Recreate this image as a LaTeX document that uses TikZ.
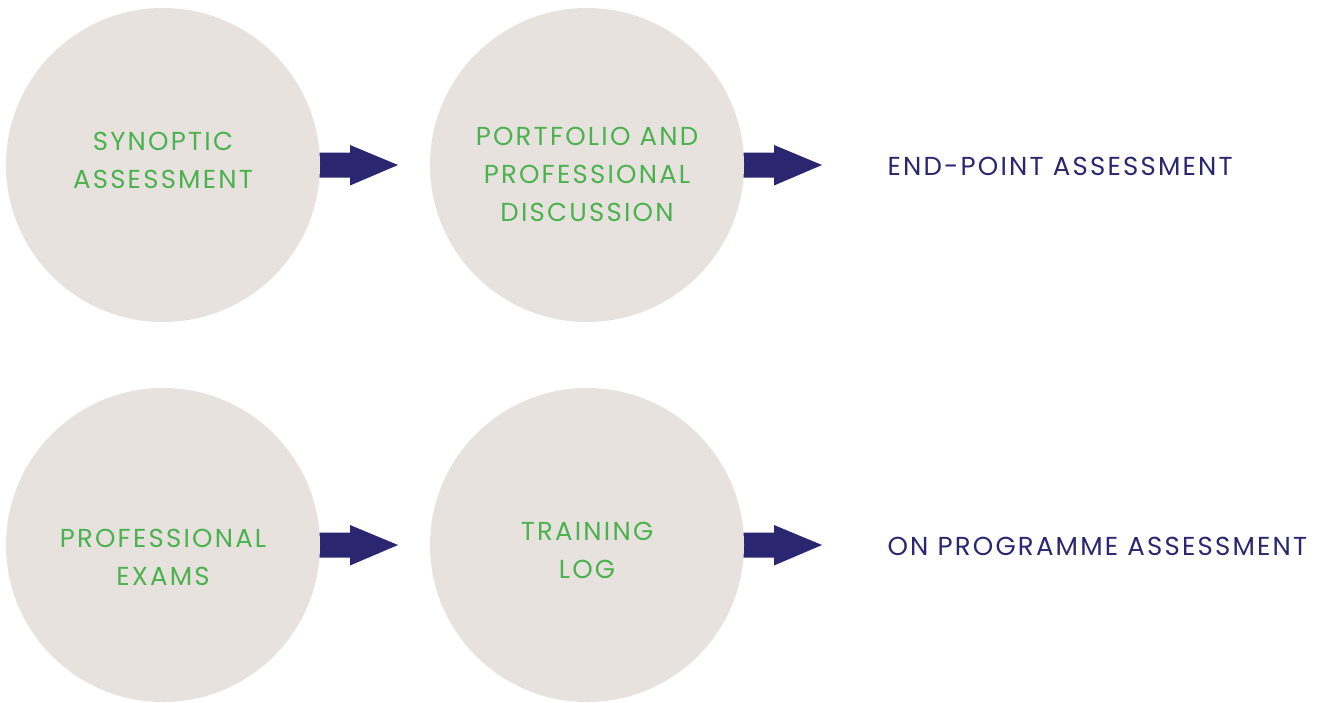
\documentclass[tikz,border=0pt]{standalone}
\usepackage{fontspec}
\setmainfont{Poppins}[LetterSpace=8.5]
\usetikzlibrary{calc}
\definecolor{disc}{RGB}{231,226,222}
\definecolor{leaf}{RGB}{76,178,80}
\definecolor{navy}{RGB}{42,38,112}
\tikzset{
  stage/.style={circle, fill=disc, minimum size=314pt, inner sep=0pt},
  label/.style={text=leaf, align=center, font=\fontsize{26}{38}\selectfont},
  outcome/.style={text=navy, anchor=west, font=\fontsize{26}{28}\selectfont},
  flow/.style={fill=navy}
}
\newcommand{\flowarrow}[1]{%
  \fill[flow] ($(#1)+(-1,-12.5)$) -- ++(31,0) -- ++(0,-7.5) -- ++(48,20)
    -- ++(-48,20.5) -- ++(0,-8) -- ++(-31,0) -- cycle;}
\begin{document}
\begin{tikzpicture}[x=1pt,y=-1pt]
\useasboundingbox (0,0) rectangle (1338,702);
% arrows sit behind the discs
\coordinate (a1) at (320,165);
\coordinate (a2) at (744,165);
\coordinate (a3) at (320,545);
\coordinate (a4) at (744,545);
\flowarrow{a1}\flowarrow{a2}\flowarrow{a3}\flowarrow{a4}
% discs
\node[stage] (syn) at (163,165) {};
\node[stage] (port) at (587,165) {};
\node[stage] (exam) at (163,545) {};
\node[stage] (log) at (587,545) {};
% disc captions
\node[label] (synt) at (163,160) {SYNOPTIC\\ASSESSMENT};
\node[label] (portt) at (587,174) {PORTFOLIO AND\\PROFESSIONAL\\DISCUSSION};
\node[label] (examt) at (163,557) {PROFESSIONAL\\EXAMS};
\node[label] (logt) at (587,550) {TRAINING\\LOG};
% row outcomes
\node[outcome] (epa) at (884,166) {END-POINT ASSESSMENT};
\node[outcome] (opa) at (884,546) {ON PROGRAMME ASSESSMENT};
\end{tikzpicture}
\end{document}
